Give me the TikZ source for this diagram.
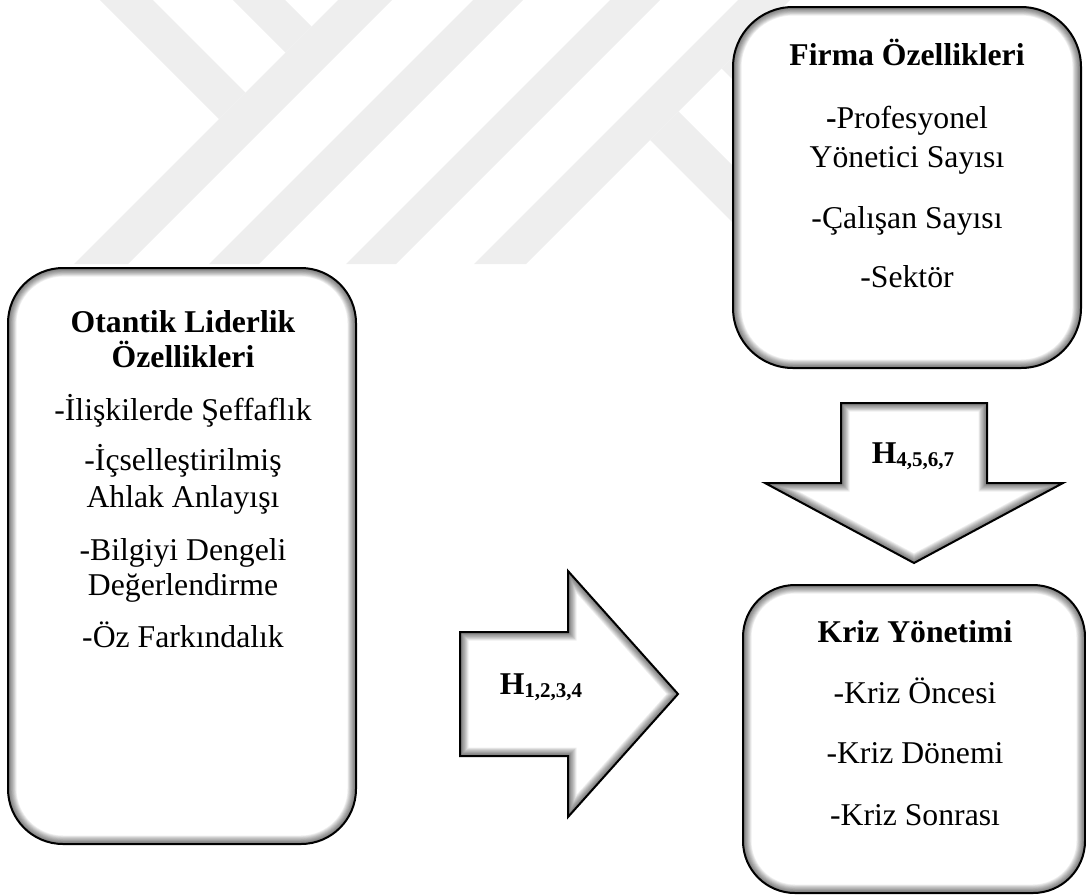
\documentclass[tikz,border=0pt]{standalone}
\usepackage{fontspec}
\setmainfont{Liberation Serif}
\definecolor{wmgray}{RGB}{238,238,238}
\tikzset{
  wmark/.style={fill=wmgray, draw=none},
  % rounded panel with a soft inner shadow along its border
  panel/.style={rectangle, draw=black, line width=2pt, fill=white,
    rounded corners=#1, inner sep=0pt,
    path picture={
      \foreach \k in {1,...,10}{
        \draw[rounded corners=#1, line width=\k*1.7pt, black, opacity=0.065]
          (path picture bounding box.south west) rectangle
          (path picture bounding box.north east);
      }
    }},
  txt/.style={anchor=base, inner sep=0pt, font=\fontsize{31.7}{38}\selectfont},
  ttl/.style={txt, font=\fontsize{31.7}{38}\selectfont\bfseries},
  lbl/.style={anchor=base, inner sep=0pt, font=\fontsize{31.7}{38}\selectfont\bfseries},
  rarrowpath/.style={insert path={(460,632) -- (568,632) -- (568,571) -- (678,694)
      -- (568,817) -- (568,756) -- (460,756) -- cycle}},
  darrowpath/.style={insert path={(841,403) -- (987,403) -- (987,483) -- (1063,483)
      -- (914,563) -- (765,483) -- (841,483) -- cycle}},
  blockedge/.style={draw=black, line width=2pt, line join=miter},
  innershade/.style={line width=#1, black, opacity=0.065},
}
\newcommand{\hsub}[1]{\raisebox{-3pt}{\fontsize{21}{21}\selectfont #1}}
\begin{document}
\begin{tikzpicture}[x=1pt, y=-1pt]
  \useasboundingbox (0,0) rectangle (1086,895);

  % faint logo stripes in the background
  \fill[wmark] (100,0) -- (153,0) -- (245.5,92.5) -- (219,119) -- cycle;
  \fill[wmark] (233,0) -- (285,0) -- (311.5,26.5) -- (285.5,52.5) -- cycle;
  \fill[wmark] (338,0) -- (392,0) -- (128,264) -- (74,264) -- cycle;
  \fill[wmark] (473,0) -- (523,0) -- (259,264) -- (209,264) -- cycle;
  \fill[wmark] (610,0) -- (660,0) -- (396,264) -- (346,264) -- cycle;
  \fill[wmark] (738,0) -- (790,0) -- (526,264) -- (474,264) -- cycle;
  \fill[wmark] (650,140) -- (678.5,111.5) -- (831,264) -- (774,264) -- cycle;
  \fill[wmark] (721.5,68.5) -- (750,40) -- (974,264) -- (917,264) -- cycle;

  % panels
  \node[panel=55, minimum width=348pt, minimum height=576pt] (otantik) at (182,556) {};
  \node[panel=60, minimum width=348pt, minimum height=361pt] (firma) at (907,187.5) {};
  \node[panel=52, minimum width=342pt, minimum height=308pt] (kriz) at (914,739) {};

  % block arrows
  \fill[white, rarrowpath];
  \begin{scope}
    \clip[rarrowpath];
    \foreach \k in {1,...,10}
      \draw[innershade=\k*1.7pt, rarrowpath];
  \end{scope}
  \path[blockedge, rarrowpath];

  \fill[white, darrowpath];
  \begin{scope}
    \clip[darrowpath];
    \foreach \k in {1,...,10}
      \draw[innershade=\k*1.7pt, darrowpath];
  \end{scope}
  \path[blockedge, darrowpath];

  \node[lbl] (h1) at (541,694) {H\hsub{1,2,3,4}};
  \node[lbl] (h2) at (913,463) {H\hsub{4,5,6,7}};

  % Firma Özellikleri
  \node[ttl] (f0) at (907,65)  {Firma Özellikleri};
  \node[txt] (f1) at (907,128) {\textbf{-}Profesyonel};
  \node[txt] (f2) at (907,167) {Yönetici Sayısı};
  \node[txt] (f3) at (907,228) {-Çalışan Sayısı};
  \node[txt] (f4) at (907,287) {-Sektör};

  % Otantik Liderlik Özellikleri
  \node[ttl] (o0) at (183,332) {Otantik Liderlik};
  \node[ttl] (o1) at (183,367) {Özellikleri};
  \node[txt] (o2) at (183,420) {-İlişkilerde Şeffaflık};
  \node[txt] (o3) at (183,470) {-İçselleştirilmiş};
  \node[txt] (o4) at (183,507) {Ahlak Anlayışı};
  \node[txt] (o5) at (183,560) {-Bilgiyi Dengeli};
  \node[txt] (o6) at (183,595) {Değerlendirme};
  \node[txt] (o7) at (183,647) {-Öz Farkındalık};

  % Kriz Yönetimi
  \node[ttl] (k0) at (915,642) {Kriz Yönetimi};
  \node[txt] (k1) at (915,703) {-Kriz Öncesi};
  \node[txt] (k2) at (915,763) {-Kriz Dönemi};
  \node[txt] (k3) at (915,825) {-Kriz Sonrası};
\end{tikzpicture}
\end{document}
